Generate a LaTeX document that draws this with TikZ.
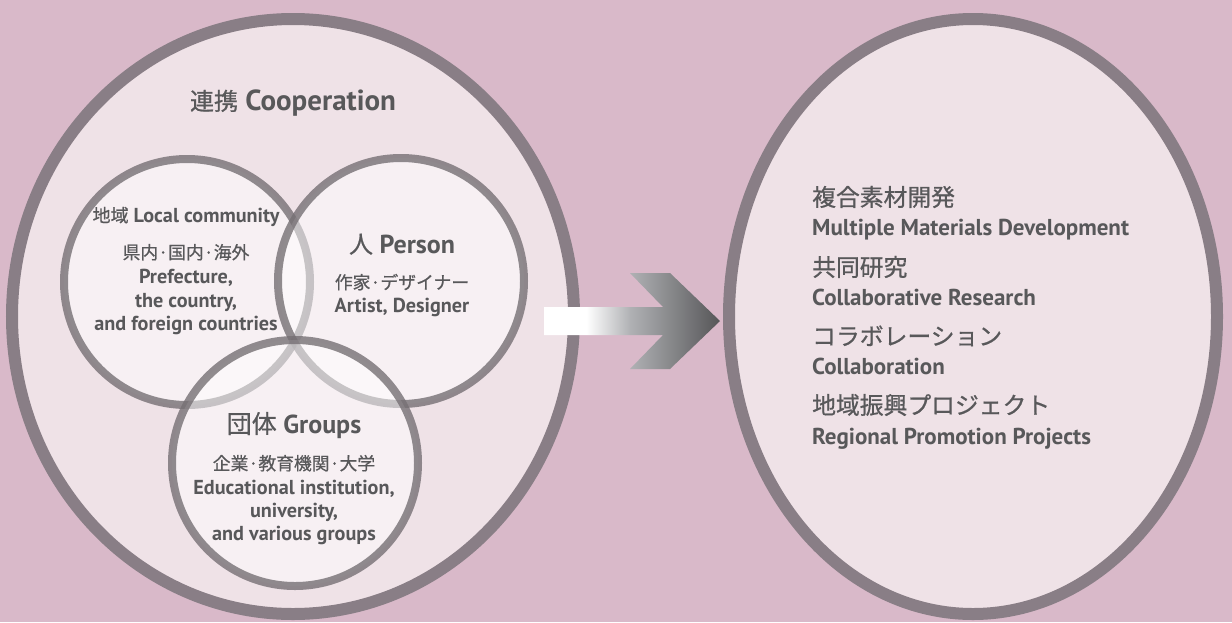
\documentclass[tikz,border=0pt]{standalone}
\usepackage{fontspec}
\setmainfont{PT Sans}
\newfontfamily\jp{Noto Sans CJK JP}[FakeBold=0.7]
\newcommand\jpx[2]{{\jp\mdseries\fontsize{#1}{#1}\selectfont #2}}
\definecolor{bg}{RGB}{217,185,201}
\definecolor{ellfill}{RGB}{239,226,231}
\definecolor{ellline}{RGB}{137,126,134}
\definecolor{cline}{RGB}{118,112,116}
\definecolor{txt}{RGB}{88,88,90}
\definecolor{arrowdark}{RGB}{86,86,88}
\definecolor{arrowmid}{RGB}{176,177,180}
\pgfdeclarehorizontalshading{arrowshade}{100bp}{color(0bp)=(white); color(25bp)=(white); color(37bp)=(white); color(49.5bp)=(arrowmid); color(75bp)=(arrowdark); color(100bp)=(arrowdark)}
\tikzset{
  bigell/.style={draw=ellline, line width=12pt, fill=ellfill},
  venn/.style={draw=cline, draw opacity=0.8, line width=8pt, fill=white, fill opacity=0.5},
  en/.style={font=\bfseries\fontsize{20.2}{22}\selectfont, text=txt, inner sep=0pt, anchor=base},
  ja/.style={font=\jp\fontsize{17.8}{20}\selectfont, text=txt, inner sep=0pt, anchor=base},
  head/.style={font=\bfseries\fontsize{26}{28}\selectfont, text=txt, inner sep=0pt, anchor=base},
  ren/.style={font=\bfseries\fontsize{23}{26}\selectfont, text=txt, inner sep=0pt, anchor=base west},
  rja/.style={font=\jp\fontsize{23.8}{26}\selectfont, text=txt, inner sep=0pt, anchor=base west},
}
\begin{document}
\begin{tikzpicture}[x=1pt,y=-1pt]
\useasboundingbox (0,0) rectangle (1232,622);
\fill[bg] (0,0) rectangle (1232,622);
% big ellipses
\draw[bigell] (293,316.5) ellipse [x radius=281, y radius=297.5];
\draw[bigell] (973,316.5) ellipse [x radius=244, y radius=297.5];
% venn circles
\draw[venn] (187,282) circle [radius=123];
\draw[venn] (401,281) circle [radius=123];
\draw[venn] (295,463) circle [radius=123];
% arrow
\shade[shading=arrowshade]
  (544,307) -- (663,307) -- (630,273) -- (670,273) -- (720,321) -- (670,369) -- (630,369) -- (663,335) -- (544,335) -- cycle;
% left texts
\node[head, font=\bfseries\fontsize{29}{32}\selectfont] (coop) at (293,110) {\jpx{24}{連携} Cooperation};
\node[en] (local) at (186,222) {\jpx{18}{地域} Local community};
\node[ja] (l1) at (186,259) {県内·国内·海外};
\node[en] (l2) at (186,283) {Prefecture,};
\node[en] (l3) at (186,307) {the country,};
\node[en] (l4) at (186,330) {and foreign countries};
\node[head] (person) at (402,253) {\jpx{24}{人} Person};
\node[ja] (p1) at (402,289) {作家·デザイナー};
\node[en] (p2) at (402,312) {Artist, Designer};
\node[head] (groups) at (294,433) {\jpx{25}{団体} Groups};
\node[ja] (g1) at (294,470) {企業·教育機関·大学};
\node[en] (g2) at (294,494) {Educational institution,};
\node[en] (g3) at (294,517) {university,};
\node[en] (g4) at (294,540) {and various groups};
% right texts
\node[rja] (r1) at (812,206) {複合素材開発};
\node[ren] (r2) at (812,235) {Multiple Materials Development};
\node[rja] (r3) at (812,276) {共同研究};
\node[ren] (r4) at (812,305) {Collaborative Research};
\node[rja] (r5) at (812,345) {コラボレーション};
\node[ren] (r6) at (812,374) {Collaboration};
\node[rja] (r7) at (812,414) {地域振興プロジェクト};
\node[ren] (r8) at (812,444) {Regional Promotion Projects};
\end{tikzpicture}
\end{document}
